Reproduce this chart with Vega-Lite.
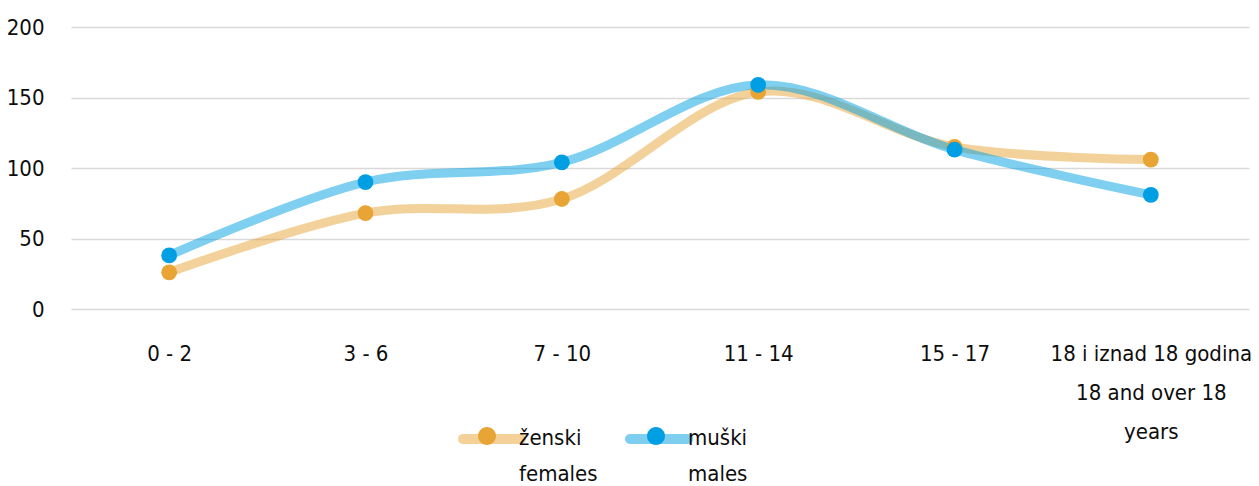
{
  "$schema": "https://vega.github.io/schema/vega-lite/v6.json",
  "width": 1178,
  "height": 282,
  "autosize": {"type": "none"},
  "padding": {"left": 71, "top": 27, "right": 10, "bottom": 177},
  "background": "white",
  "config": {
    "font": "DejaVu Sans Condensed, sans-serif",
    "view": {"stroke": null}
  },
  "data": {
    "values": [
      {"age": "0 - 2", "sex": "ženski", "count": 26},
      {"age": "3 - 6", "sex": "ženski", "count": 68},
      {"age": "7 - 10", "sex": "ženski", "count": 78},
      {"age": "11 - 14", "sex": "ženski", "count": 154},
      {"age": "15 - 17", "sex": "ženski", "count": 115},
      {"age": "18 i iznad 18 godina", "sex": "ženski", "count": 106},
      {"age": "0 - 2", "sex": "muški", "count": 38},
      {"age": "3 - 6", "sex": "muški", "count": 90},
      {"age": "7 - 10", "sex": "muški", "count": 104},
      {"age": "11 - 14", "sex": "muški", "count": 159},
      {"age": "15 - 17", "sex": "muški", "count": 113},
      {"age": "18 i iznad 18 godina", "sex": "muški", "count": 81}
    ]
  },
  "encoding": {
    "x": {
      "field": "age",
      "type": "nominal",
      "sort": null,
      "scale": {"type": "point", "padding": 0.5},
      "axis": {
        "title": null,
        "domain": false,
        "ticks": false,
        "grid": false,
        "labelAngle": 0,
        "labelFontSize": 22,
        "labelColor": "#0d0d0d",
        "labelPadding": 34,
        "labelLimit": 0,
        "labelLineHeight": 39,
        "labelBaseline": "top",
        "labelExpr": "datum.label == '18 i iznad 18 godina' ? ['18 i iznad 18 godina', '18 and over 18', 'years'] : datum.label"
      }
    },
    "y": {
      "field": "count",
      "type": "quantitative",
      "scale": {"domain": [0, 200]},
      "axis": {
        "title": null,
        "domain": false,
        "ticks": false,
        "values": [0, 50, 100, 150, 200],
        "labelFontSize": 22,
        "labelColor": "#0d0d0d",
        "labelPadding": 27,
        "gridColor": "#D9D9D9",
        "gridWidth": 1.5
      }
    }
  },
  "layer": [
    {
      "mark": {"type": "line", "interpolate": "cardinal", "strokeWidth": 9, "strokeOpacity": 0.5, "strokeCap": "round"},
      "encoding": {
        "stroke": {
          "field": "sex",
          "type": "nominal",
          "scale": {"domain": ["ženski", "muški"], "range": ["#E8A435", "#009FE3"]},
          "legend": {
            "orient": "none",
            "legendX": 387,
            "legendY": 378,
            "direction": "horizontal",
            "title": null,
            "padding": 0,
            "symbolType": "stroke",
            "symbolSize": 3364,
            "symbolStrokeWidth": 10,
            "symbolOpacity": 0.5,
            "labelFontSize": 22,
            "labelOffset": 3,
            "columnPadding": 69,
            "labelExpr": "''",
            "encode": {
              "symbols": {"update": {"strokeCap": {"value": "round"}}}
            }
          }
        }
      }
    },
    {
      "mark": {"type": "point", "filled": true, "size": 250, "opacity": 1, "strokeWidth": 0},
      "encoding": {
        "fill": {
          "field": "sex",
          "type": "nominal",
          "sort": ["ženski", "muški"],
          "scale": {"range": ["#E8A435", "#009FE3"]},
          "legend": {
            "orient": "none",
            "legendX": 387,
            "legendY": 380,
            "direction": "horizontal",
            "title": null,
            "padding": 0,
            "symbolType": "M-1,0M1,0M-0.31,0A0.31,0.31,0,1,0,0.31,0A0.31,0.31,0,1,0,-0.31,0Z",
            "symbolSize": 3364,
            "symbolStrokeWidth": 0,
            "symbolOpacity": 1,
            "labelFontSize": 22,
            "labelOffset": 3,
            "columnPadding": 29,
            "labelColor": "#0d0d0d",
            "labelBaseline": "top",
            "labelExpr": "datum.label == 'ženski' ? ['ženski', 'females'] : ['muški', 'males']",
            "encode": {
              "labels": {"update": {"lineHeight": {"value": 36}, "dy": {"value": -8}}}
            }
          }
        }
      }
    }
  ]
}
